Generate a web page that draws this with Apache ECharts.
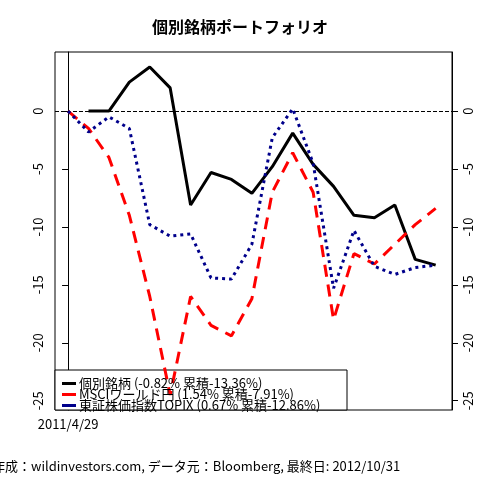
<!DOCTYPE html><html><head><meta charset="utf-8"><script src="https://cdn.jsdelivr.net/npm/echarts@6/dist/echarts.min.js"></script></head><body style="margin:0"><div id="c" style="width:480px;height:480px"></div><script>
const categories=['2011/4/29','p1','p2','p3','p4','p5','p6','p7','p8','p9','p10','p11','p12','p13','p14','p15','p16','p17','p18'];
const stock=[null,0,0,2.5,3.8,2,-8.1,-5.3,-5.9,-7.1,-4.8,-1.9,-4.6,-6.5,-9,-9.2,-8.1,-12.8,-13.3];
const msci=[0,-1.5,-4,-9,-16,-24.5,-16,-18.5,-19.4,-16.2,-7,-3.6,-7,-18,-12.3,-13.2,-11.5,-9.8,-8.4];
const topix=[0,-1.8,-0.5,-1.5,-9.8,-10.8,-10.6,-14.4,-14.5,-11.5,-2.3,0.2,-4.5,-15.3,-10.3,-13.4,-14.1,-13.5,-13.3];
const yTicks=[0,-5,-10,-15,-20,-25];
const names=['個別銘柄 (-0.82% 累積-13.36%)','MSCIワールド円 (1.54% 累積-7.91%)','東証株価指数TOPIX (0.67% 累積-12.86%)'];
const F='"Noto Sans CJK JP"';
const pairs=a=>a.map((v,i)=>[i,v]);
const yAxis=(pos)=>({type:'value',position:pos,min:-25.8,max:5.1,splitLine:{show:false},
 axisLine:{show:true,lineStyle:{color:'#000'}},
 axisTick:{show:true,customValues:yTicks,length:6,lineStyle:{color:'#000'}},
 axisLabel:{customValues:yTicks,rotate:90,color:'#000',fontFamily:F,fontSize:13,margin:10}});
const c=echarts.init(document.getElementById('c'));
c.setOption({animation:false,backgroundColor:'#fff',
title:{text:'個別銘柄ポートフォリオ',left:'center',top:14,textStyle:{fontFamily:F,fontSize:16,fontWeight:'bold',color:'#000'}},
graphic:[{type:'text',left:-8,top:460,style:{text:'作成：wildinvestors.com, データ元：Bloomberg, 最終日: 2012/10/31',font:'13px '+F,fill:'#000'}},
{type:'rect',shape:{x:55,y:370,width:292,height:40},style:{fill:'#fff',stroke:'#000',lineWidth:1},z:1}],
legend:{left:57,top:372,orient:'vertical',itemGap:-2,itemWidth:14,itemHeight:3,z:20,icon:'rect',textStyle:{fontFamily:F,fontSize:13,color:'#000',padding:[0,0,0,-2]},data:names},
grid:{left:55,right:28,top:52,bottom:70,show:true,borderColor:'#000',borderWidth:1},
xAxis:{type:'value',min:-0.64,max:18.8,splitLine:{show:false},axisLine:{show:false},
 axisTick:{show:true,customValues:[0],length:6,lineStyle:{color:'#000'}},
 axisLabel:{customValues:[0],color:'#000',fontFamily:F,fontSize:13,formatter:v=>categories[Math.round(v)]||''}},
yAxis:[yAxis('left'),yAxis('right')],
series:[
{name:names[0],type:'line',data:pairs(stock),symbol:'none',z:5,lineStyle:{color:'#000',width:3},itemStyle:{color:'#000'},
 markLine:{symbol:'none',silent:true,label:{show:false},lineStyle:{color:'#000',type:'dashed',width:1},data:[{yAxis:0}]}},
{name:names[1],type:'line',data:pairs(msci),symbol:'none',z:5,lineStyle:{color:'#f00',width:3,type:[12,8]},itemStyle:{color:'#f00'}},
{name:names[2],type:'line',data:pairs(topix),symbol:'none',z:5,lineStyle:{color:'#00008b',width:3,type:[3,4]},itemStyle:{color:'#00008b'}}
]});
</script></body></html>
